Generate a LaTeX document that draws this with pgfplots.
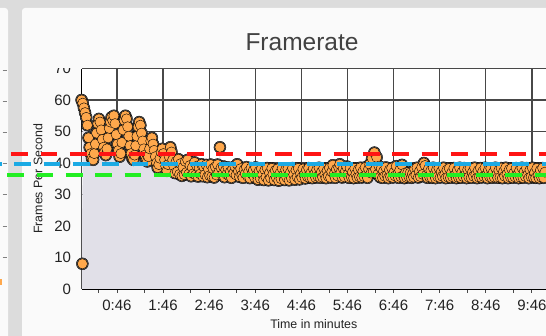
\documentclass[border=0pt]{standalone}
\usepackage{pgfplots}
\usepackage{pgfplotstable}
\pgfplotsset{compat=1.18}
\usepackage{fontspec}
\setmainfont{Liberation Sans}
\definecolor{outergray}{RGB}{220,220,220}
\definecolor{cardcol}{RGB}{250,250,250}
\definecolor{titlecol}{RGB}{66,66,66}
\definecolor{tickcol}{RGB}{34,34,34}
\definecolor{gridcol}{RGB}{72,72,72}
\definecolor{areacol}{RGB}{225,224,232}
\definecolor{outlinecol}{RGB}{92,92,92}
\definecolor{markcol}{RGB}{255,168,76}
\definecolor{redl}{RGB}{255,20,20}
\definecolor{bluel}{RGB}{27,170,228}
\definecolor{greenl}{RGB}{34,238,34}

\pgfplotstableread{
t v
0 60
1 8
1.5 59
3 57.5
4.5 56
6 54.5
7.5 52
9 48
10.5 45
12 43
13.5 41.5
15 41
16.5 43
18 46
19.5 49.5
21 52.5
22.5 54
24 53
25.5 50.5
27 47.5
28.5 45
30 43.5
31.5 42.5
33 44.5
34.5 48
36 51
37.5 53
39 54.5
40.5 53.5
42 55
43.5 52.5
45 49
46.5 46
48 44
49.5 42
51 43
52.5 46.5
54 50.5
55.5 53.5
57 55
58.5 54
60 51.5
61.5 48.5
63 45.5
64.5 43
66 41.5
67.5 41
69 42.5
70.5 45.5
72 48.5
73.5 51.5
75 53
76.5 52
78 49.5
79.5 47
81 44.5
82.5 42.5
84 41
85.5 40.5
87 42
88.5 44.5
90 47
91.5 48
93 46
94.5 44
96 42
97.5 40
99 38.5
100.5 39.5
102 41.5
103.5 43.5
105 44.5
106.5 43
108 41
109.5 39
111 37.5
112.5 39.5
114 42
115.5 45
117 43.5
118.5 41
120 39
121.5 36.8
123 40.5
124.5 37.2
126 41.2
127.5 36.4
129 39.8
130.5 35.9
132 38.6
133.5 36.3
135 40.5
136.5 37.0
138 41.0
139.5 36.5
141 39.2
142.5 35.8
144 38.5
145.5 36.6
147 40.2
148.5 36.2
150 39.0
151.5 35.7
153 38.4
154.5 36.5
156 39.6
157.5 35.8
159 38.8
160.5 36.3
162 39.4
163.5 35.5
165 38.1
166.5 36.0
168 39.5
169.5 35.7
171 38.2
172.5 35.4
174 38.8
175.5 36.2
177 39.5
178.5 37.0
180 45
181.5 38.5
183 36.2
184.5 38.9
186 35.5
187.5 37.8
189 36.4
190.5 38.6
192 35.9
193.5 37.2
195 35.3
196.5 38.1
198 36.8
199.5 38.9
201 36.2
202.5 39.6
204 37.4
205.5 35.6
207 38.2
208.5 36.1
210 35.3
211.5 37.9
213 36.6
214.5 38.7
216 35.8
217.5 37.3
219 35.2
220.5 38.4
222 36.5
223.5 37.7
225 35.4
226.5 38.6
228 36.2
229.5 34.7
231 37.4
232.5 35.1
234 38.2
235.5 36.3
237 34.6
238.5 37.8
240 35.5
241.5 38.4
243 34.5
244.5 36.8
246 35.2
247.5 38.3
249 36.4
250.5 34.6
252 37.6
253.5 35.3
255 38.1
256.5 34.4
258 36.7
259.5 35.0
261 38.3
262.5 36.1
264 34.6
265.5 37.9
267 35.4
268.5 38.2
270 34.5
271.5 36.9
273 35.2
274.5 38.4
276 36.3
277.5 34.7
279 37.7
280.5 35.5
282 38.3
283.5 34.8
285 36.6
286.5 35.4
288 38.1
289.5 36.2
291 35.1
292.5 37.8
294 35.6
295.5 38.4
297 35.3
298.5 36.9
300 35.2
301.5 38.2
303 36.4
304.5 35.4
306 37.9
307.5 35.7
309 38.5
310.5 35.3
312 37.1
313.5 35.5
315 38.3
316.5 36.3
318 35.2
319.5 37.6
321 35.8
322.5 38.4
324 35.4
325.5 37.2
327 39.3
328.5 36.4
330 35.3
331.5 38.0
333 35.9
334.5 38.6
336 39.6
337.5 37.0
339 35.4
340.5 38.2
342 35.6
343.5 37.5
345 38.9
346.5 36.3
348 35.3
349.5 38.4
351 35.5
352.5 37.1
354 35.2
355.5 38.3
357 36.4
358.5 35.3
360 37.9
361.5 35.6
363 38.5
364.5 35.4
366 37.3
367.5 35.7
369 38.6
370.5 36.2
372 35.3
373.5 38.1
375 39.6
376.5 36.8
378 41.5
379.5 37.2
381 43.3
382.5 38.0
384 41.8
385.5 36.4
387 39.0
388.5 35.5
390 38.2
391.5 35.3
393 37.4
394.5 35.8
396 38.6
397.5 36.1
399 35.2
400.5 37.8
402 35.6
403.5 38.4
405 35.4
406.5 37.0
408 35.9
409.5 39.0
411 36.3
412.5 35.3
414 37.7
415.5 35.6
417 39.4
418.5 36.0
420 35.2
421.5 36.9
423 35.4
424.5 37.0
426 35.6
427.5 36.8
429 35.3
430.5 36.5
432 35.5
433.5 38.1
435 36.2
436.5 38.5
438 35.4
439.5 37.3
441 35.7
442.5 38.6
444 36.4
445.5 40.0
447 39.2
448.5 36.1
450 35.3
451.5 38.2
453 35.5
454.5 37.6
456 35.3
457.5 38.5
459 36.2
460.5 35.2
462 37.9
463.5 35.6
465 38.4
466.5 35.4
468 37.2
469.5 35.8
471 38.5
472.5 36.3
474 35.2
475.5 37.8
477 35.5
478.5 38.3
480 35.3
481.5 36.9
483 35.6
484.5 38.4
486 36.1
487.5 35.2
489 37.7
490.5 35.4
492 38.5
493.5 35.3
495 37.1
496.5 35.7
498 38.4
499.5 36.2
501 35.2
502.5 37.9
504 35.5
505.5 38.3
507 35.3
508.5 37.0
510 35.8
511.5 38.5
513 36.3
514.5 35.2
516 37.6
517.5 35.5
519 38.4
520.5 35.4
522 37.3
523.5 35.7
525 38.5
526.5 36.0
528 35.2
529.5 37.8
531 35.6
532.5 38.3
534 35.3
535.5 36.9
537 35.5
538.5 38.5
540 36.2
541.5 35.3
543 37.7
544.5 35.4
546 38.4
547.5 35.2
549 37.2
550.5 35.8
552 38.5
553.5 36.4
555 35.2
556.5 37.9
558 35.5
559.5 38.3
561 35.3
562.5 36.8
564 35.6
565.5 38.4
567 36.1
568.5 35.2
570 37.6
571.5 35.4
573 38.5
574.5 35.3
576 37.2
577.5 35.7
579 38.4
580.5 36.2
582 35.2
583.5 37.8
585 35.6
586.5 38.5
588 35.4
589.5 36.9
591 35.3
592.5 38.3
594 36.0
595.5 35.2
597 37.7
598.5 35.5
600 38.4
601.5 35.3
603 37.1
604.5 35.8
606 38.5
607.5 36.4
}\fpsdata

\pgfplotstableread{
t red blue green
-129.6 43.0 39.6 36.2
612 43.0 39.6 36.2
}\refdata

\begin{document}
\begin{tikzpicture}[x=1pt,y=1pt]
\useasboundingbox (0,0) rectangle (546,336);
\clip (0,0) rectangle (546,336);
\fill[outergray] (0,0) rectangle (546,336);
\fill[cardcol, rounded corners=3pt] (-10,-10) rectangle (8,328);
\fill[cardcol, rounded corners=3pt] (22,-10) rectangle (570,328);
\foreach \yy in {70,101,132,163,194,226,257}{
  \draw[gray, line width=0.8pt] (2.5,336-\yy) -- (6.5,336-\yy);
}
\fill[markcol] (0,336-285) rectangle (2,336-279);
\node[text=titlecol, font=\fontsize{24.5}{28}\selectfont] at (302,293.5) {Framerate};

\begin{axis}[
  at={(81.6pt,47pt)}, anchor=south west,
  scale only axis, width=464.4pt, height=220.5pt,
  xmin=0, xmax=604.4, ymin=0, ymax=70,
  axis lines*=left,
  axis line style={line width=1.8pt, black},
  grid=major,
  major grid style={line width=1.3pt, gridcol},
  xtick={46,106,...,586},
  xticklabels={0:46,1:46,2:46,3:46,4:46,5:46,6:46,7:46,8:46,9:46},
  minor xtick={22,82,...,562},
  ytick={0,10,...,70},
  xtick align=outside,
  major tick length=4pt, minor tick length=4pt,
  x tick style={gridcol, line width=0.8pt},
  minor x tick style={gridcol, line width=0.8pt},
  y tick style={draw=none},
  /pgf/number format/assume math mode=true,
  tick label style={font=\fontsize{15}{15}\selectfont, text=tickcol},
  xticklabel style={yshift=-3pt},
  yticklabel style={xshift=-7pt},
  xlabel={Time in minutes},
  ylabel={Frames Per Second},
  every axis x label/.style={at={(axis description cs:0.5,-0.159)}, anchor=center, font=\fontsize{12.4}{14}\selectfont, text=tickcol},
  every axis y label/.style={at={(axis description cs:-0.0939,0.5)}, rotate=90, anchor=center, font=\fontsize{12.4}{14}\selectfont, text=tickcol},
  axis background/.style={fill=white},
]
\addplot[draw=none, fill=areacol] table[x=t, y=v] {\fpsdata} \closedcycle;
\addplot[only marks, mark=*, mark size=6.0pt, mark options={draw=none, fill=outlinecol}] table[x=t, y=v] {\fpsdata};
\addplot[only marks, mark=*, mark size=5.1pt, mark options={draw=none, fill=markcol}] table[x=t, y=v] {\fpsdata};
\end{axis}

\begin{axis}[
  at={(81.6pt,47pt)}, anchor=south west,
  scale only axis, width=464.4pt, height=220.5pt,
  xmin=0, xmax=604.4, ymin=0, ymax=70,
  hide axis, clip=false,
]
\addplot[redl, line width=4pt, dash pattern=on 16.7pt off 12.6pt] table[x=t, y=red] {\refdata};
\addplot[bluel, line width=4pt, dash pattern=on 16.7pt off 12.6pt, dash phase=-3pt] table[x=t, y=blue] {\refdata};
\addplot[greenl, line width=4pt, dash pattern=on 16.7pt off 12.6pt, dash phase=4pt] table[x=t, y=green] {\refdata};
\end{axis}
\fill[cardcol] (30,267.6) rectangle (79.5,285);
\end{tikzpicture}
\end{document}
